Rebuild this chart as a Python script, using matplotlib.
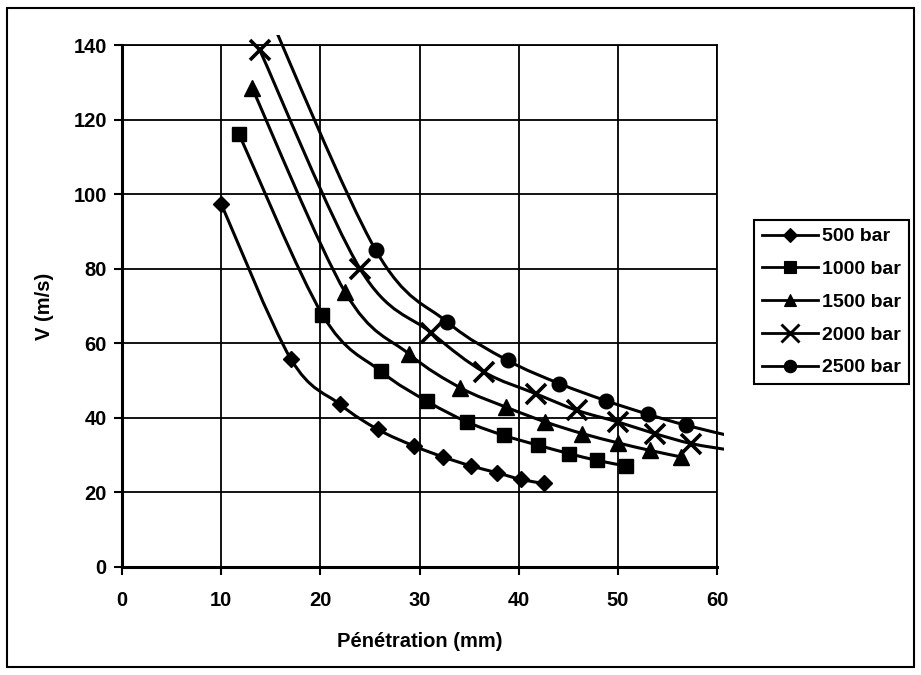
import numpy as np
import matplotlib
matplotlib.use('Agg')
import matplotlib.pyplot as plt
from matplotlib.path import Path
from matplotlib.patches import PathPatch, Rectangle
from matplotlib.lines import Line2D

plt.rcParams['font.family'] = ['Liberation Sans', 'DejaVu Sans']
plt.rcParams['font.weight'] = 'bold'

# valeurs (Pénétration en mm, V en m/s)
labels = ['500 bar', '1000 bar', '1500 bar', '2000 bar', '2500 bar']
markers = ['D', 's', '^', 'x', 'o']
msizes = [8.0, 10.0, 11.0, 15.0, 10.5]

x500 = [10.0, 17.0, 22.0, 25.8, 29.4, 32.4, 35.2, 37.8, 40.2, 42.6]
v500 = [97.4, 55.9, 43.6, 36.9, 32.5, 29.5, 27.1, 25.3, 23.5, 22.4]

x1000 = [11.8, 20.2, 26.1, 30.8, 34.8, 38.5, 41.9, 45.1, 47.9, 50.8]
v1000 = [116.1, 67.7, 52.5, 44.4, 38.9, 35.3, 32.7, 30.4, 28.6, 27.1]

x1500 = [13.1, 22.5, 28.9, 34.1, 38.7, 42.7, 46.4, 50.0, 53.2, 56.4]
v1500 = [128.6, 73.7, 57.2, 48.1, 42.9, 38.9, 35.8, 33.3, 31.3, 29.5]

x2000 = [13.9, 24.0, 31.2, 36.5, 41.7, 45.9, 50.0, 53.7, 57.4, 61.2]
v2000 = [138.6, 80.0, 62.8, 52.3, 46.5, 42.0, 38.9, 35.8, 33.1, 31.4]

x2500 = [14.6, 25.6, 32.8, 38.9, 44.1, 48.8, 53.0, 56.9, 61.6]
v2500 = [149.5, 84.9, 65.7, 55.4, 49.2, 44.6, 41.0, 38.0, 35.0]

series = [(x500, v500), (x1000, v1000), (x1500, v1500), (x2000, v2000), (x2500, v2500)]


def smooth_path(x, y):
    # courbe lissée façon Excel (Bezier passant par les points)
    pts = np.column_stack([x, y])
    n = len(pts)
    verts = [pts[0]]
    codes = [Path.MOVETO]
    for i in range(n - 1):
        p0 = pts[i - 1] if i > 0 else pts[i]
        p1 = pts[i]
        p2 = pts[i + 1]
        p3 = pts[i + 2] if i + 2 < n else pts[i + 1]
        verts += [p1 + (p2 - p0) / 6, p2 - (p3 - p1) / 6, p2]
        codes += [Path.CURVE4] * 3
    return Path(verts, codes)


fig = plt.figure(figsize=(9.21, 6.75), dpi=100)
ax = fig.add_axes([0.1325, 0.16, 0.646, 0.7733])

clip = Rectangle((0, 0), 1.012, 1.02, transform=ax.transAxes)
handles = []
for (x, v), m, ms, lab in zip(series, markers, msizes, labels):
    x = np.array(x)
    v = np.array(v)
    patch = PathPatch(smooth_path(x, v), facecolor='none', edgecolor='black',
                      lw=2.2, zorder=3)
    ax.add_patch(patch)
    patch.set_clip_path(clip)
    inside = (x <= 60) & (v <= 140)
    mew = 2.6 if m == 'x' else 1.0
    ax.plot(x[inside], v[inside], linestyle='none', marker=m, ms=ms,
            color='black', mew=mew, zorder=4, clip_on=False)
    handles.append(Line2D([], [], color='black', lw=2.0, marker=m,
                          ms=ms * 0.85, mew=mew * 0.8))

ax.set_xlim(0, 60)
ax.set_ylim(0, 140)
ax.set_xticks(np.arange(0, 61, 10))
ax.set_yticks(np.arange(0, 141, 20))
ax.grid(True, color='black', lw=1.3)
ax.set_axisbelow(True)
for s in ax.spines.values():
    s.set_linewidth(1.3)
ax.spines['left'].set_linewidth(2.2)
ax.spines['bottom'].set_linewidth(2.2)
ax.tick_params(axis='both', direction='out', length=6, width=1.5, labelsize=14.5)
ax.tick_params(axis='x', pad=11)
ax.tick_params(axis='y', pad=5)

ax.set_xlabel('Pénétration (mm)', fontsize=14.5, fontweight='bold')
ax.set_ylabel('V (m/s)', fontsize=14.5, fontweight='bold')
ax.xaxis.set_label_coords(0.5, -0.125)
ax.yaxis.set_label_coords(-0.115, 0.5)

leg = fig.legend(handles, labels, loc='upper left',
                 bbox_to_anchor=(754 / 921, 1 - 220 / 675), borderaxespad=0,
                 fontsize=14, labelspacing=0.78, handlelength=2.9,
                 handletextpad=0.2, borderpad=0.4, fancybox=False,
                 framealpha=1, edgecolor='black')
leg.get_frame().set_linewidth(1.5)

fig.patches.append(Rectangle((7 / 921, 8 / 675), 907 / 921, 659 / 675,
                             transform=fig.transFigure, fill=False,
                             lw=1.5, edgecolor='black'))

fig.savefig('out.png', dpi=100, facecolor='white')
